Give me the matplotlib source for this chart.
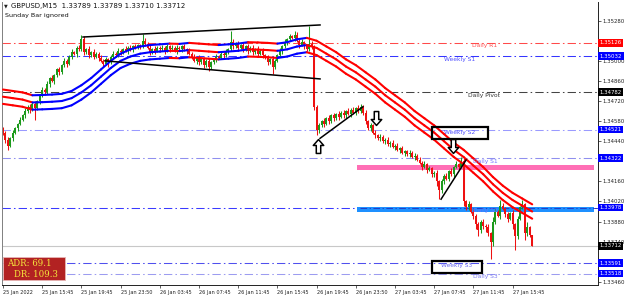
import numpy as np
import matplotlib
matplotlib.use("Agg")
import matplotlib.pyplot as plt
from matplotlib.collections import LineCollection
from matplotlib.patches import Rectangle
from matplotlib.path import Path
import matplotlib.transforms as mtrans

# ---------------- data ----------------
title_text = "GBPUSD,M15  1.33789 1.33789 1.33710 1.33712"
subtitle_text = "Sunday Bar ignored"

first_open = 1.3452
closes = [
    1.3450, 1.3445, 1.3441, 1.3446, 1.3450, 1.3453, 1.3456, 1.3459, 1.3462, 1.3465,
    1.3468, 1.3466, 1.3470, 1.3467, 1.3472, 1.3476, 1.3480, 1.3478, 1.3484, 1.3488,
    1.3486, 1.3490, 1.3494, 1.3492, 1.3497, 1.3500, 1.3498, 1.3503, 1.3506, 1.3505,
    1.3509, 1.3508, 1.3515, 1.3506, 1.3508, 1.3504, 1.3506, 1.3503, 1.3505, 1.3502,
    1.3500, 1.3498, 1.3501, 1.3499, 1.3503, 1.3505, 1.3504, 1.3507, 1.3506, 1.3508,
    1.3507, 1.3509, 1.3508, 1.3510, 1.3509, 1.3511, 1.3510, 1.3514, 1.3512, 1.3509,
    1.3506, 1.3508, 1.3507, 1.3509, 1.3508, 1.3509, 1.3507, 1.3510, 1.3508, 1.3509,
    1.3507, 1.3509, 1.3508, 1.3510, 1.3508, 1.3507, 1.3505, 1.3503, 1.3500, 1.3502,
    1.3499, 1.3501, 1.3497, 1.3500, 1.3496, 1.3499, 1.3501, 1.3503, 1.3502, 1.3505,
    1.3504, 1.3506, 1.3508, 1.3513, 1.3510, 1.3512, 1.3509, 1.3511, 1.3508, 1.3510,
    1.3507, 1.3509, 1.3506, 1.3508, 1.3505, 1.3507, 1.3504, 1.3502, 1.3499, 1.3501,
    1.3496, 1.3500, 1.3504, 1.3507, 1.3510, 1.3513, 1.3515, 1.3517, 1.3516, 1.3518,
    1.3514, 1.3511, 1.3513, 1.3510, 1.3508, 1.3512, 1.3510, 1.3468, 1.3452, 1.3455,
    1.3458, 1.3456, 1.3460, 1.3458, 1.3462, 1.3460, 1.3463, 1.3461, 1.3464, 1.3462,
    1.3465, 1.3463, 1.3466, 1.3464, 1.3467, 1.3465, 1.3468, 1.3464, 1.3458, 1.3453,
    1.3455, 1.3450, 1.3448, 1.3446, 1.3447, 1.3444, 1.3445, 1.3442, 1.3443, 1.3440,
    1.3441, 1.3438, 1.3439, 1.3436, 1.3437, 1.3435, 1.3436, 1.3433, 1.3434, 1.3431,
    1.3429, 1.3426, 1.3428, 1.3424, 1.3425, 1.3421, 1.3422, 1.3416, 1.3410, 1.3416,
    1.3420, 1.3418, 1.3423, 1.3421, 1.3426, 1.3428, 1.3426, 1.3430, 1.3402, 1.3398,
    1.3400, 1.3395, 1.3392, 1.3386, 1.3382, 1.3388, 1.3385, 1.3384, 1.3380, 1.3374,
    1.3388, 1.3395, 1.3392, 1.3399, 1.3397, 1.3393, 1.3390, 1.3394, 1.3386, 1.3378,
    1.3390, 1.3398, 1.3400, 1.3380, 1.3384, 1.33789, 1.33712,
]
upper_wick_pips = [
    2, 1, 2, 1, 2, 1, 1, 2, 1, 2,
    1, 2, 1, 2, 1, 1, 2, 1, 2, 1,
    2, 1, 1, 2, 1, 2, 1, 1, 2, 1,
    1, 2, 3, 2, 1, 2, 1, 2, 1, 1,
    2, 1, 2, 1, 1, 2, 1, 2, 1, 1,
    2, 1, 2, 1, 2, 1, 1, 5, 2, 1,
    2, 1, 2, 1, 1, 2, 1, 2, 1, 2,
    1, 2, 1, 1, 2, 1, 2, 1, 2, 1,
    2, 1, 2, 1, 2, 1, 1, 2, 1, 2,
    1, 2, 1, 8, 2, 1, 2, 1, 2, 1,
    2, 1, 2, 1, 2, 1, 2, 1, 2, 1,
    2, 1, 1, 2, 1, 2, 1, 2, 1, 3,
    2, 1, 2, 1, 2, 12, 2, 1, 1, 2,
    1, 2, 1, 2, 1, 2, 1, 2, 1, 2,
    1, 2, 1, 2, 1, 2, 2, 1, 2, 1,
    2, 1, 2, 1, 2, 1, 1, 2, 1, 2,
    1, 2, 1, 2, 1, 1, 2, 1, 2, 1,
    2, 1, 2, 1, 2, 1, 1, 2, 1, 2,
    1, 2, 1, 2, 1, 2, 1, 3, 2, 1,
    2, 1, 2, 1, 2, 1, 2, 1, 2, 1,
    3, 2, 1, 4, 2, 1, 2, 1, 2, 1,
    2, 1, 3, 1, 4, 1, 0,
]
lower_wick_pips = [
    2, 2, 3, 1, 2, 1, 2, 1, 1, 2,
    1, 2, 1, 8, 1, 2, 1, 2, 1, 2,
    1, 2, 1, 2, 1, 1, 2, 1, 2, 1,
    2, 1, 1, 2, 1, 2, 1, 2, 1, 2,
    1, 2, 1, 3, 1, 2, 1, 1, 2, 1,
    1, 2, 1, 2, 1, 1, 2, 1, 2, 1,
    2, 1, 2, 1, 2, 1, 2, 1, 2, 1,
    1, 2, 1, 2, 1, 2, 1, 2, 1, 2,
    2, 1, 2, 1, 3, 2, 1, 2, 1, 1,
    2, 1, 1, 1, 2, 1, 2, 1, 2, 1,
    2, 1, 2, 1, 2, 1, 2, 1, 2, 1,
    5, 2, 1, 1, 2, 1, 2, 1, 1, 2,
    1, 2, 1, 2, 1, 1, 2, 2, 4, 2,
    1, 2, 1, 2, 1, 2, 1, 2, 1, 2,
    2, 1, 2, 1, 2, 1, 1, 2, 2, 1,
    2, 1, 2, 1, 2, 1, 2, 1, 2, 1,
    2, 1, 2, 1, 2, 1, 2, 1, 2, 1,
    1, 2, 1, 2, 1, 2, 2, 3, 6, 2,
    2, 1, 2, 1, 2, 1, 2, 1, 3, 2,
    2, 1, 2, 3, 4, 2, 2, 3, 2, 12,
    3, 2, 1, 2, 1, 2, 2, 1, 3, 10,
    2, 1, 1, 5, 2, 2, 0,
]

# moving-average band (read once per hour = every 4 bars)
band_step = 4
band_center = [
    1.3475, 1.3474, 1.3473, 1.3471, 1.34712, 1.34715, 1.3472, 1.3474, 1.3478, 1.3483,
    1.3489, 1.3495, 1.3500, 1.3503, 1.3505, 1.3506, 1.35065, 1.3507, 1.35068, 1.35075,
    1.3507, 1.35065, 1.3506, 1.35065, 1.3507, 1.3508, 1.35078, 1.35075, 1.3507, 1.3508,
    1.3510, 1.3511, 1.3509, 1.3505, 1.3501, 1.3496, 1.3492, 1.3487, 1.3482, 1.3476,
    1.3471, 1.3466, 1.3460, 1.3455, 1.3450, 1.3444, 1.3438, 1.3433, 1.3427, 1.3421,
    1.3414, 1.3408, 1.3403, 1.3399, 1.3395,
]
band_half_width = 0.0005

x_tick_bars = [0, 16, 32, 48, 64, 80, 96, 112, 128, 144, 160, 176, 192, 208]
x_tick_labels = ["25 Jan 2022", "25 Jan 15:45", "25 Jan 19:45", "25 Jan 23:50",
                 "26 Jan 03:45", "26 Jan 07:45", "26 Jan 11:45", "26 Jan 15:45",
                 "26 Jan 19:45", "26 Jan 23:50", "27 Jan 03:45", "27 Jan 07:45",
                 "27 Jan 11:45", "27 Jan 15:45"]
y_ticks = [1.35280, 1.35140, 1.35000, 1.34860, 1.34720, 1.34580, 1.34440,
           1.34300, 1.34160, 1.34020, 1.33880, 1.33740, 1.33600, 1.33460]
y_tick_hidden = [1.35140, 1.34300, 1.33600]   # covered by the price boxes

level_names = ["Daily R1", "Weekly S1", "Daily Pivot", "Weekly S2",
               "Daily S1", "Daily S2", "Weekly S3", "Daily S3"]
level_prices = [1.35126, 1.35032, 1.34782, 1.34521, 1.34322, 1.33978, 1.33591, 1.33518]
level_label_bar = [196.7, 186.3, 196.5, 186.5, 196.7, 196.7, 185.3, 196.7]

bid_price = 1.33712

zone_start_bar = 144.5
zone_end_bar = 241.2
pink_zone = (1.34239, 1.34274)
blue_zone = (1.33947, 1.33984)

trend_lines = [
    ((32.65, 1.35166), (129.4, 1.35250)),
    ((41.6, 1.35000), (129.4, 1.34874)),
    ((129.4, 1.34460), (146.9, 1.34680)),
    ((178.8, 1.34036), (189.0, 1.34309)),
]
arrow_bars = [128.6, 152.2, 183.7]
arrow_prices = [1.34410, 1.34600, 1.34410]
arrow_dirs = ["up", "down", "down"]

label_boxes = [((175.1, 1.34455), (198.0, 1.34539)),
               ((175.1, 1.33521), (195.5, 1.33605))]

adr_text = "ADR: 69.1"
dr_text = "DR: 109.3"

# ---------------- styles ----------------
W, H = 625, 299
fig = plt.figure(figsize=(W / 100, H / 100), dpi=100)
ax_left, ax_right, ax_top, ax_bot = 2, 598, 2, 285
ax = fig.add_axes([ax_left / W, 1 - ax_bot / H, (ax_right - ax_left) / W, (ax_bot - ax_top) / H])
px_per_bar = 2.45
ax.set_xlim((ax_left - 3) / px_per_bar, (ax_right - 3) / px_per_bar)
ax.set_ylim(1.33438, 1.35410)

UP_C = "#1c9a1c"
DN_C = "#ee1111"

n = len(closes)
xs = np.arange(n)
c = np.array(closes)
o = np.concatenate([[first_open], c[:-1]])
hi = np.maximum(o, c) + np.array(upper_wick_pips) * 1e-4
lo = np.minimum(o, c) - np.array(lower_wick_pips) * 1e-4
cols = [UP_C if cc >= oo else DN_C for oo, cc in zip(o, c)]

# level lines
level_colors = ["#ff4a4a", "#3535ff", "#444444", "#9a9aff", "#8f8fef", "#3a3aff", "#5050ee", "#9c9cf0"]
label_colors = ["#ff5050", "#5050ff", "#333333", "#5050ff", "#7070ff", "#7070ff", "#6a6aee", "#7a7af0"]
dashdot = (0, (8, 3, 1.5, 3))
for p, lc in zip(level_prices, level_colors):
    ax.axhline(p, color=lc, lw=0.75, ls=dashdot, zorder=1)
ax.axhline(bid_price, color="#c8c8c8", lw=0.8, zorder=1)

# zones
ax.add_patch(Rectangle((zone_start_bar, pink_zone[0]), zone_end_bar - zone_start_bar,
                       pink_zone[1] - pink_zone[0], fc="#ff6fb5", ec="none", zorder=1.5))
ax.add_patch(Rectangle((zone_start_bar, blue_zone[0]), zone_end_bar - zone_start_bar,
                       blue_zone[1] - blue_zone[0], fc="#1e90ff", ec="none", zorder=1.5))
ax.axhline(level_prices[5], xmin=0.6, color="#2030c0", lw=0.6, ls=dashdot, zorder=1.6)

# candles
ax.vlines(xs, lo, hi, colors=cols, lw=0.75, zorder=2)
body_h = np.maximum(np.abs(c - o), 0.00003)
ax.bar(xs, body_h, bottom=np.minimum(o, c), width=0.78, color=cols, lw=0, zorder=2.1)

# MA bands
bx = np.arange(0, n, band_step)[:len(band_center)]
bc = np.array(band_center)
seg_cols = ["#0000ff" if bc[k + 1] >= bc[k] else "#ff0000" for k in range(len(bc) - 1)]
for off in (band_half_width, 0.0, -band_half_width):
    segs = [[(bx[k], bc[k] + off), (bx[k + 1], bc[k + 1] + off)] for k in range(len(bc) - 1)]
    ax.add_collection(LineCollection(segs, colors=seg_cols, lw=1.5, zorder=3, capstyle="round"))

# trend lines
for (x0, y0), (x1, y1) in trend_lines:
    ax.plot([x0, x1], [y0, y1], color="black", lw=1.1, zorder=4)

# level labels
for name, p, bxl, tc in zip(level_names, level_prices, level_label_bar, label_colors):
    ax.text(bxl, p - 0.00003, name, fontsize=4.3, color=tc, ha="center", va="top", zorder=5)

# label boxes
for (x0, y0), (x1, y1) in label_boxes:
    ax.add_patch(Rectangle((x0, y0), x1 - x0, y1 - y0, fc="none", ec="black", lw=1.6, zorder=5))

# arrows
up_path = Path([(0, 1), (-0.75, 0.15), (-0.32, 0.15), (-0.32, -1), (0.32, -1),
                (0.32, 0.15), (0.75, 0.15), (0, 1)],
               [Path.MOVETO] + [Path.LINETO] * 6 + [Path.CLOSEPOLY])
down_path = Path(up_path.vertices * np.array([1, -1]), up_path.codes)
for ab, ap, ad in zip(arrow_bars, arrow_prices, arrow_dirs):
    ax.plot([ab], [ap], marker=up_path if ad == "up" else down_path, ms=10,
            mfc="white", mec="black", mew=1.1, zorder=6, ls="none")

# axes styling
ax.spines["top"].set_visible(False)
ax.spines["left"].set_color("#808080")
for s in ("bottom", "right"):
    ax.spines[s].set_color("#222222")
for s in ax.spines.values():
    s.set_linewidth(0.7)
ax.yaxis.tick_right()
ax.set_yticks(y_ticks)
ax.set_yticklabels(["" if v in y_tick_hidden else f"{v:.5f}" for v in y_ticks])
ax.tick_params(axis="y", length=2, width=0.5, pad=1.2, labelsize=3.9, colors="#222222")
ax.set_xticks(x_tick_bars)
ax.set_xticklabels(x_tick_labels)
ax.tick_params(axis="x", length=2, width=0.5, pad=1.5, labelsize=3.6, colors="#222222")
for t in ax.get_xticklabels():
    t.set_ha("left")

# right price boxes
trans = mtrans.blended_transform_factory(ax.transAxes, ax.transData)
box_colors = {1.35126: "#ff0000", 1.35032: "#0000ff", 1.34782: "#000000", 1.34521: "#0000ff",
              1.34322: "#0000ff", 1.33978: "#0000ff", 1.33591: "#0000ff", 1.33518: "#0000ff"}
box_prices = level_prices + [bid_price]
box_fc = [box_colors[p] for p in level_prices] + ["#000000"]
for p, fc in zip(box_prices, box_fc):
    ax.text(1.003, p, f"{p:.5f}", transform=trans, fontsize=3.9, color="white",
            ha="left", va="center", clip_on=False, zorder=10,
            bbox=dict(boxstyle="square,pad=0.25", fc=fc, ec="none"))

# header texts
fig.text(4 / W, 1 - 6 / H, "\u25bc", fontsize=3.5, va="center", ha="left", color="#222222")
fig.text(11 / W, 1 - 6 / H, title_text, fontsize=5.0, va="center", ha="left", color="#111111")
fig.text(5 / W, 1 - 15.5 / H, subtitle_text, fontsize=4.6, va="center", ha="left", color="#111111")

# ADR box
fig.add_artist(Rectangle((3 / W, 1 - 280 / H), 62 / W, 23 / H, transform=fig.transFigure,
                         fc="#b22222", ec="#e7b5b5", lw=0.6, zorder=20))
fig.text(7 / W, 1 - 263.5 / H, adr_text, fontsize=6.2, color="#f5e63c", family="DejaVu Serif",
         va="center", ha="left", zorder=21)
fig.text(14 / W, 1 - 274.5 / H, dr_text, fontsize=6.2, color="#f5e63c", family="DejaVu Serif",
         va="center", ha="left", zorder=21)

fig.savefig("out.png", dpi=100)
